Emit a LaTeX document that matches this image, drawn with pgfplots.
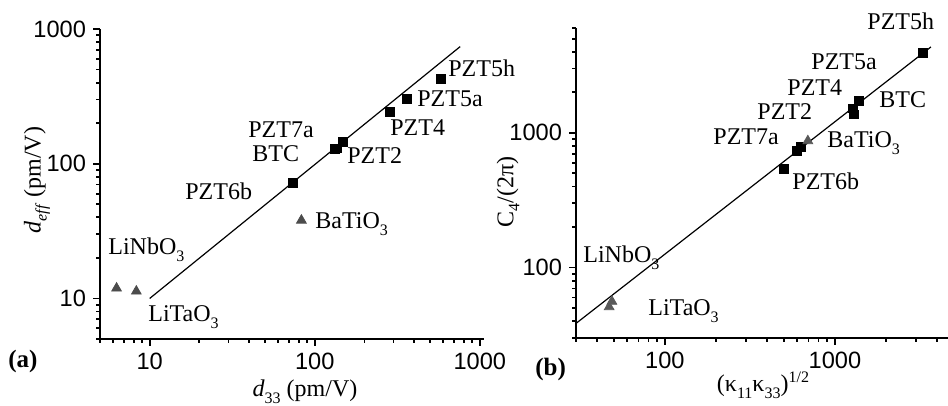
\documentclass[border=0pt]{standalone}
\usepackage{fontspec}
\setmainfont{Liberation Serif}
\newfontfamily\arialfont{Liberation Sans}
\usepackage{pgfplots}
\pgfplotsset{compat=1.18}
\newcommand{\sub}[1]{\raisebox{-0.55ex}{\fontsize{8}{8}\selectfont #1}}
\begin{document}
\begin{tikzpicture}
\useasboundingbox (0pt,0pt) rectangle (474pt,203pt);
\begin{axis}[xmode=log, ymode=log, scale only axis, axis lines=left,
  axis line style={-, line width=1.1pt}, tick align=outside,
  major tick length=3.5pt, minor tick length=2pt,
  every tick/.append style={black, line width=0.9pt},
  tick label style={font=\arialfont\fontsize{11.8}{12}\selectfont},
  clip=false, anchor=south west,
  at={(50pt,33.5pt)}, width=192pt, height=155pt,
  xmin=5, xmax=1060, ymin=5, ymax=1000,
  xtick={10,100,1000}, xticklabels={10,100,1000},
  minor xtick={5,6,7,8,9,20,30,40,50,60,70,80,90,200,300,400,500,600,700,800,900},
  ytick={10,100,1000}, yticklabels={10,100,1000},
  minor ytick={5,6,7,8,9,20,30,40,50,60,70,80,90,200,300,400,500,600,700,800,900}]
\addplot[black, line width=0.6pt] coordinates {(10,10)(760,740)};
\addplot[only marks, mark=square*, mark size=2.2pt, black] coordinates {(73.6,71.6)(132,128)(137,130)(148,145)(285,241)(361,302)(580,425)};
\addplot[only marks, mark=triangle*, mark size=2.8pt, color=black!70] coordinates {(6.3,11.9)(8.3,11.3)(83,38)};
\end{axis}
\begin{axis}[xmode=log, ymode=log, scale only axis, axis lines=left,
  axis line style={-, line width=1.1pt}, tick align=outside,
  major tick length=3.5pt, minor tick length=2pt,
  every tick/.append style={black, line width=0.9pt},
  tick label style={font=\arialfont\fontsize{11.8}{12}\selectfont},
  clip=false, anchor=south west,
  at={(288pt,34pt)}, width=186pt, height=155pt,
  xmin=30, xmax=4625, ymin=30, ymax=6000,
  xtick={100,1000}, xticklabels={100,1000},
  minor xtick={30,40,50,60,70,80,90,200,300,400,500,600,700,800,900,2000,3000,4000},
  ytick={100,1000}, yticklabels={100,1000},
  minor ytick={30,40,50,60,70,80,90,200,300,400,500,600,700,800,900,2000,3000,4000,5000,6000}]
\addplot[black, line width=0.6pt] coordinates {(30,38.5)(3670,4340)};
\addplot[only marks, mark=square*, mark size=2.2pt, black] coordinates {(501,541)(598,736)(631,788)(1280,1520)(1290,1370)(1384,1726)(3296,3917)};
\addplot[only marks, mark=triangle*, mark size=2.8pt, color=black!65] coordinates {(48.8,56)(47,51)(693,871)};
\end{axis}
\begin{scope}[every node/.style={inner sep=0pt, anchor=base west, font=\fontsize{12}{14}\selectfont}]
\node at (224pt,164.5pt) {PZT5h};
\node at (208.5pt,149.5pt) {PZT5a};
\node at (195pt,135pt) {PZT4};
\node at (124pt,134pt) {PZT7a};
\node at (126pt,122pt) {BTC};
\node at (173.5pt,121pt) {PZT2};
\node at (92.5pt,103pt) {PZT6b};
\node at (157.5pt,88.5pt) {BaTiO\sub{3}};
\node at (54pt,75.5pt) {LiNbO\sub{3}};
\node at (74pt,42pt) {LiTaO\sub{3}};
\node at (433.5pt,188pt) {PZT5h};
\node at (405.5pt,168pt) {PZT5a};
\node at (393.5pt,155pt) {PZT4};
\node at (378.5pt,143pt) {PZT2};
\node at (356.5pt,130.5pt) {PZT7a};
\node at (439.5pt,149pt) {BTC};
\node at (413.5pt,129pt) {BaTiO\sub{3}};
\node at (396pt,108pt) {PZT6b};
\node at (291.5pt,71.5pt) {LiNbO\sub{3}};
\node at (324pt,45pt) {LiTaO\sub{3}};
\node[font=\fontsize{12.5}{14}\selectfont\bfseries] at (4pt,19pt) {(a)};
\node[font=\fontsize{12.5}{14}\selectfont\bfseries] at (267.5pt,15pt) {(b)};
\node[anchor=base] at (152.5pt,4.5pt) {\textit{d}\sub{33} (pm/V)};
\node[anchor=base] at (381.5pt,7pt) {(κ\sub{11}κ\sub{33})\raisebox{0.9ex}{\fontsize{8}{8}\selectfont 1/2}};
\node[anchor=center, rotate=90] at (18.5pt,113pt) {\textit{d}\sub{\textit{eff}} (pm/V)};
\node[anchor=center, rotate=90] at (254pt,107pt) {C\sub{4}/(2π)};
\end{scope}
\end{tikzpicture}
\end{document}
